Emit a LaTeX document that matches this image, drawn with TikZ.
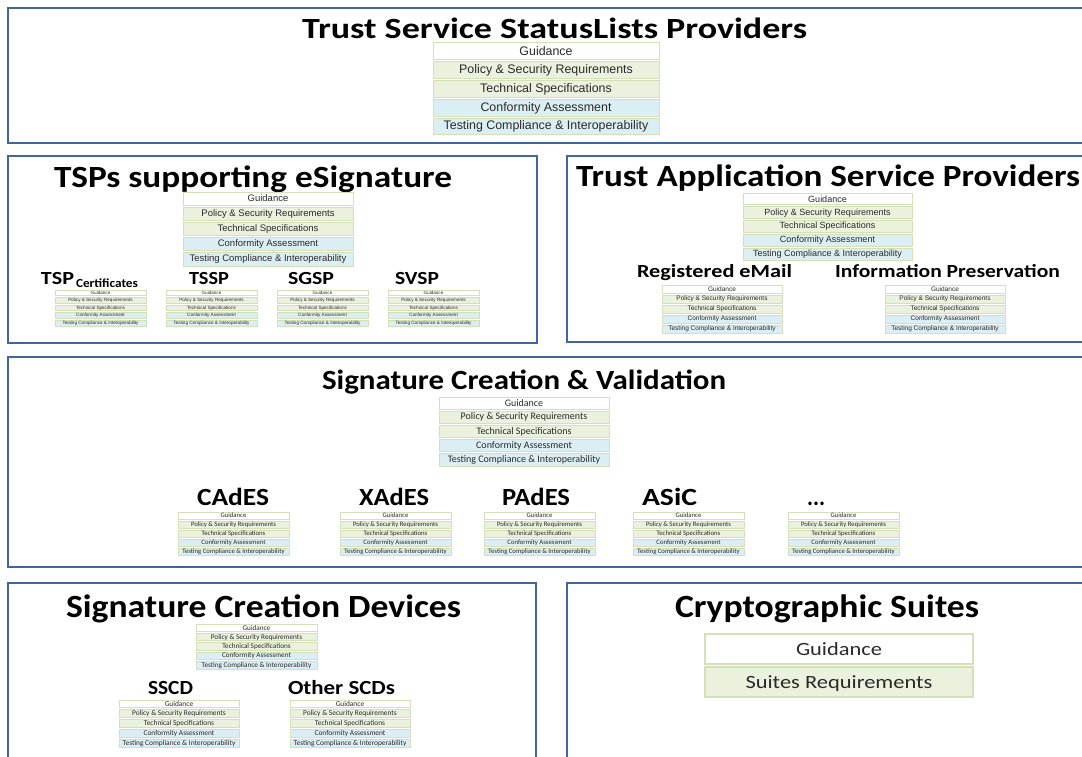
\documentclass[tikz,border=0pt]{standalone}
\usepackage{fontspec}
\usepackage{graphicx}
\setmainfont{Liberation Sans}
\newfontfamily\calfont{Carlito}
\definecolor{bbl}{HTML}{41669C}
\definecolor{gbd}{HTML}{D3E0B8}
\definecolor{lgr}{HTML}{EAF1DD}
\definecolor{lbl}{HTML}{DBEEF3}
\definecolor{txt}{HTML}{2A2A2A}
\newcommand\fitt[4]{\resizebox{#1pt}{#2pt}{#3\smash{#4}\vphantom{H}}}
\newcommand\stk[7]{%
  \foreach \lab/\fil [count=\i] in {Guidance/white,Policy \& Security Requirements/lgr,Technical Specifications/lgr,Conformity Assessment/lbl,Testing Compliance \& Interoperability/lbl}{
    \node[rowbox, fill=\fil, minimum width=#4pt, minimum height={#5pt-2pt},
      font={#7\fontsize{#6pt}{#6pt}\selectfont}] (#1-\i) at (#2,{#3+(\i-1)*#5}) {\lab};
  }}
\tikzset{
  bigbox/.style={draw=bbl, line width=2.6pt},
  rowbox/.style={draw=gbd, line width=1pt, inner sep=0pt, outer sep=0pt, anchor=north west, text=txt},
  ttl/.style={anchor=base west, inner sep=0pt, outer sep=0pt, text=black},
  cbox/.style={draw=gbd, line width=1.2pt, inner sep=0pt, outer sep=0pt, anchor=north west, minimum width=268pt, minimum height=30pt, text=txt},
}
\begin{document}
\begin{tikzpicture}[x=1pt,y=-1pt]
\useasboundingbox (0,0) rectangle (1082,757);
\clip (0,0) rectangle (1082,757);
\fill[white] (0,0) rectangle (1082,757);
% big boxes
\draw[bigbox] (8,8) rectangle (1100,143);
\draw[bigbox] (8,156) rectangle (537,343);
\draw[bigbox] (567,156) rectangle (1100,342);
\draw[bigbox] (8,357) rectangle (1100,567);
\draw[bigbox] (8,583) rectangle (536,775);
\draw[bigbox] (567,583) rectangle (1100,775);
% titles
\node[ttl] (t1) at (302,39) {\fitt{505}{19}{\calfont\bfseries}{Trust Service StatusLists Providers}};
\node[ttl] (t2) at (54,188) {\fitt{398}{20}{\calfont\bfseries}{TSPs supporting eSignature}};
\node[ttl] (t3) at (576,186) {\fitt{504}{20}{\calfont\bfseries}{Trust Application Service Providers}};
\node[ttl] (t4) at (322,389) {\fitt{404}{18}{\calfont\bfseries}{Signature Creation \& Validation}};
\node[ttl] (t5) at (66,617) {\fitt{395}{21}{\calfont\bfseries}{Signature Creation Devices}};
\node[ttl] (t6) at (675,617) {\fitt{304}{21}{\calfont\bfseries}{Cryptographic Suites}};
% box 1
\stk{s1}{433}{43}{226}{18.8}{12.4}{}
% box 2
\stk{s2}{183}{192}{170}{15.2}{9.5}{}
\node[ttl] (l2a) at (41,284) {\fitt{33}{12}{\calfont\bfseries}{TSP}\hspace{2pt}\raisebox{-3pt}{\fitt{62}{8}{\calfont\bfseries}{Certificates}}};
\node[ttl] (l2b) at (189,284) {\fitt{40}{12}{\calfont\bfseries}{TSSP}};
\node[ttl] (l2c) at (288,284) {\fitt{46}{12}{\calfont\bfseries}{SGSP}};
\node[ttl] (l2d) at (395,284) {\fitt{44}{12}{\calfont\bfseries}{SVSP}};
\stk{s2a}{55}{290}{91}{7.6}{4.6}{}
\stk{s2b}{166}{290}{91}{7.6}{4.6}{}
\stk{s2c}{277}{290}{91}{7.6}{4.6}{}
\stk{s2d}{388}{290}{91}{7.6}{4.6}{}
% box 3
\stk{s3}{743}{193}{169}{13.8}{9.0}{}
\node[ttl] (l3a) at (637,277) {\fitt{155}{12}{\calfont\bfseries}{Registered eMail}};
\node[ttl] (l3b) at (835,277) {\fitt{225}{12}{\calfont\bfseries}{Information Preservation}};
\stk{s3a}{662}{285}{120}{10}{6.5}{}
\stk{s3b}{885}{285}{120}{10}{6.5}{}
% box 4
\stk{s4}{439}{397}{170}{14.2}{10}{\calfont}
\node[ttl] (l4a) at (197,505) {\fitt{72}{16}{\calfont\bfseries}{CAdES}};
\node[ttl] (l4b) at (359,505) {\fitt{70}{16}{\calfont\bfseries}{XAdES}};
\node[ttl] (l4c) at (502,505) {\fitt{68}{16}{\calfont\bfseries}{PAdES}};
\node[ttl] (l4d) at (642,505) {\fitt{55}{16}{\calfont\bfseries}{ASiC}};
\node[ttl] (l4e) at (807,505) {\fitt{18}{16}{\calfont\bfseries}{...}};
\stk{s4a}{178}{512}{111}{9}{6.7}{\calfont}
\stk{s4b}{340}{512}{111}{9}{6.7}{\calfont}
\stk{s4c}{484}{512}{111}{9}{6.7}{\calfont}
\stk{s4d}{633}{512}{111}{9}{6.7}{\calfont}
\stk{s4e}{788}{512}{111}{9}{6.7}{\calfont}
% box 5
\stk{s5}{196}{624}{121}{9.4}{7.2}{\calfont}
\node[ttl] (l5a) at (148,694) {\fitt{45}{13}{\calfont\bfseries}{SSCD}};
\node[ttl] (l5b) at (288,694) {\fitt{107}{13}{\calfont\bfseries}{Other SCDs}};
\stk{s5a}{119}{700}{120}{9.8}{7.4}{\calfont}
\stk{s5b}{290}{700}{120}{9.8}{7.4}{\calfont}
% box 6
\node[cbox, fill=white] (c1) at (705,634) {\fitt{86}{12}{\calfont}{Guidance}};
\node[cbox, fill=lgr] (c2) at (705,667) {\fitt{187}{12}{\calfont}{Suites Requirements}};
\end{tikzpicture}
\end{document}
